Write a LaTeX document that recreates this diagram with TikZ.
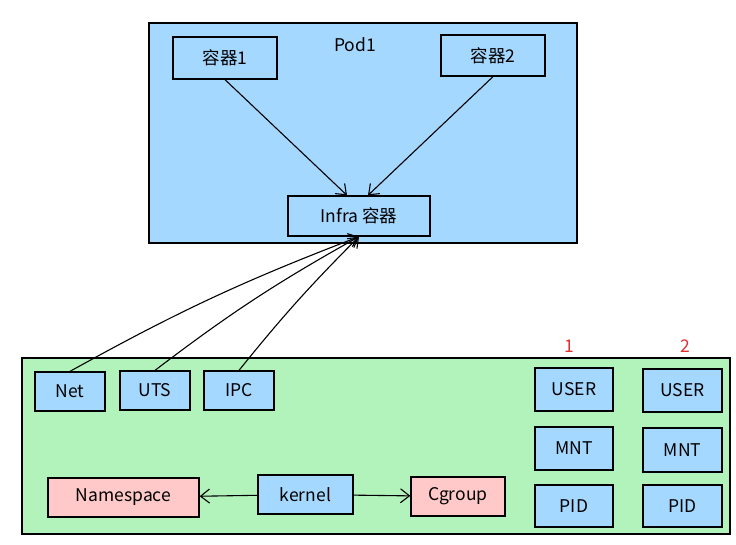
\documentclass[tikz,border=0pt]{standalone}
\usepackage{fontspec}
\setmainfont{Noto Sans CJK SC}
\usetikzlibrary{arrows.meta}
\definecolor{cPodFill}{HTML}{A5D8FF}
\definecolor{cHostFill}{HTML}{B2F2BB}
\definecolor{cTypeFill}{HTML}{FFC9C9}
\definecolor{cMark}{HTML}{E03131}
\tikzset{
  nsbox/.style={draw, fill=cPodFill, line width=1.3pt, inner sep=0pt, align=center},
  kindbox/.style={draw, fill=cTypeFill, line width=1.3pt, inner sep=0pt, align=center},
  link/.style={line width=1.1pt, -{Straight Barb[length=9pt,width=14pt]}},
}

\begin{document}
\begin{tikzpicture}[x=1pt, y=-1pt, font=\fontsize{17.5}{20}\selectfont]
\useasboundingbox (0,0) rectangle (736,545);
%% Pod with its containers
\node[draw, fill=cPodFill, line width=1.3pt, minimum width=428, minimum height=220]
  (pod) at (363,133) {};
\node (podname) at (355,45) {Pod1};
\node[draw, line width=1.3pt, inner sep=0pt, minimum width=104, minimum height=42]
  (box1) at (225,58) {容器1};
\node[draw, line width=1.3pt, inner sep=0pt, minimum width=104, minimum height=41]
  (box2) at (493,55.5) {容器2};
\node[draw, line width=1.3pt, inner sep=0pt, minimum width=142, minimum height=40]
  (infra) at (359,216) {Infra 容器};
\draw[link] (box1.south) -- ([xshift=-12]infra.north);
\draw[link] (box2.south) -- ([xshift=9]infra.north);
%% Host with namespaces and cgroup
\node[draw, fill=cHostFill, line width=1.3pt, minimum width=708, minimum height=176]
  (host) at (376,446) {};
\node[nsbox, minimum width=70, minimum height=39] (net) at (70,391.5) {Net};
\node[nsbox, minimum width=70, minimum height=39] (uts) at (155,390.5) {UTS};
\node[nsbox, minimum width=70, minimum height=39] (ipc) at (239,390.5) {IPC};
\draw[link] (net.north) to[bend left=4] (infra.south);
\draw[link] (uts.north) to[bend left=4] (infra.south);
\draw[link] (ipc.north) to[bend left=3] (infra.south);
\node[kindbox, minimum width=151, minimum height=39] (namespace) at (123.5,497.5) {Namespace};
\node[nsbox, minimum width=95, minimum height=39] (kernel) at (305.5,494.5) {kernel};
\node[kindbox, minimum width=94, minimum height=39] (cgroup) at (458,496.5) {Cgroup};
\draw[link] (kernel) -- (namespace);
\draw[link] (kernel) -- (cgroup);
%% two namespace sets
\node[text=cMark] (mark1) at (569,346) {1};
\node[text=cMark] (mark2) at (685,346) {2};
\node[nsbox, minimum width=78, minimum height=43] (user1) at (574,389.5) {USER};
\node[nsbox, minimum width=78, minimum height=43] (mnt1) at (574,448.5) {MNT};
\node[nsbox, minimum width=78, minimum height=42] (pid1) at (574,506) {PID};
\node[nsbox, minimum width=79, minimum height=43] (user2) at (682.5,390.5) {USER};
\node[nsbox, minimum width=79, minimum height=44] (mnt2) at (682.5,450) {MNT};
\node[nsbox, minimum width=79, minimum height=42] (pid2) at (682.5,506) {PID};
\end{tikzpicture}
\end{document}
